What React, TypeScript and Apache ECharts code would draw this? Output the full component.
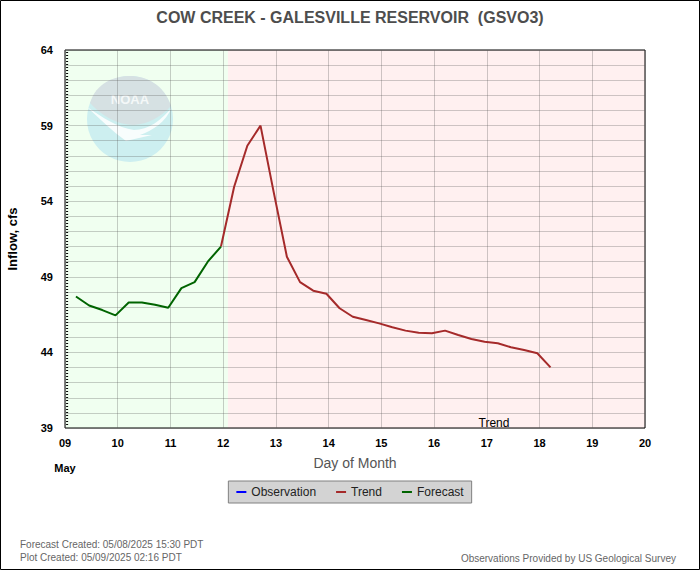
import React, { useEffect, useRef } from "react";
import * as echarts from "echarts";

// ---- data ----
const forecastDays = [9.208, 9.458, 9.708, 9.958, 10.208, 10.458, 10.708, 10.958, 11.208, 11.458, 11.708, 11.958];
const forecastValues = [47.7, 47.1, 46.8, 46.45, 47.3, 47.3, 47.15, 46.95, 48.25, 48.65, 50.0, 51.0];
const trendDays = [11.958, 12.208, 12.458, 12.708, 12.958, 13.208, 13.458, 13.708, 13.958, 14.208, 14.458, 14.708, 14.958, 15.208, 15.458, 15.708, 15.958, 16.208, 16.458, 16.708, 16.958, 17.208, 17.458, 17.708, 17.958, 18.208];
const trendValues = [51.0, 54.96, 57.67, 59.0, 54.6, 50.33, 48.65, 48.08, 47.88, 46.92, 46.36, 46.14, 45.92, 45.66, 45.44, 45.3, 45.26, 45.44, 45.15, 44.89, 44.71, 44.6, 44.34, 44.16, 43.94, 43.01];
const observationValues: number[][] = [];
// regions: [start day, end day, kind index]
const regions = [
  [9, 12.09, 0],
  [12.09, 20, 1],
];
const dataStartMarker = [[9.04]];
const xMin = 9;
const xMax = 20;
const yMin = 39;
const yMax = 64;
const yLabelStep = 5;

const FONT = "'Liberation Sans', Arial, sans-serif";
const regionColors = ["#f0fff0", "#fff0f0"];

let registered = false;
function registerShapes() {
  if (registered) return;
  registered = true;
  echarts.graphic.registerShape(
    "noaaTop",
    echarts.graphic.extendPath(
      "M -40 -16 C -34 -36 -16 -43 0 -43 C 17 -43 34 -34 41 -13 C 31 -2 18 5 4 6 C -12 6 -28 -3 -40 -16 Z",
      {}
    )
  );
  echarts.graphic.registerShape(
    "noaaWing",
    echarts.graphic.extendPath(
      "M -43 -12 C -28 -2 -12 9 4 11 C 18 11 32 1 42 -12 C 36 3 22 12 10 16 L 22 16 L -4 22 C -18 12 -30 0 -43 -12 Z",
      {}
    )
  );
}

export default function App() {
  const ref = useRef<HTMLDivElement>(null);
  useEffect(() => {
    if (!ref.current) return;
    registerShapes();
    const chart = echarts.init(ref.current, undefined, { renderer: "svg" });
    const gridLine = "rgba(90,90,90,0.3)";
    chart.setOption({
      animation: false,
      backgroundColor: "#ffffff",
      title: {
        text: "COW CREEK - GALESVILLE RESERVOIR  (GSVO3)",
        left: "center",
        top: 4,
        textStyle: { fontFamily: FONT, fontSize: 16, fontWeight: "bold", color: "#4d4d4d" },
      },
      grid: {
        left: 65,
        top: 50,
        right: 55,
        bottom: 142,
        containLabel: false,
        outerBoundsMode: "none",
        show: true,
        borderColor: "#000",
        borderWidth: 1,
        backgroundColor: "transparent",
      },
      legend: {
        data: ["Observation", "Trend", "Forecast"],
        left: "center",
        top: 481,
        icon: "rect",
        itemWidth: 10,
        itemHeight: 2,
        itemGap: 20,
        padding: [5, 8],
        backgroundColor: "#d3d3d3",
        borderColor: "#808080",
        borderWidth: 1,
        borderRadius: 0,
        textStyle: { fontFamily: FONT, fontSize: 12, color: "#222" },
      },
      xAxis: {
        type: "value",
        min: xMin,
        max: xMax,
        interval: 1,
        name: "Day of Month",
        nameLocation: "middle",
        nameGap: 28,
        nameMoveOverlap: false,
        nameTextStyle: { fontFamily: FONT, fontSize: 14, color: "#555" },
        axisLine: { show: false },
        axisTick: { show: false },
        axisLabel: {
          margin: 9,
          fontFamily: FONT,
          fontSize: 11,
          fontWeight: "bold",
          color: "#000",
          formatter: (v: number) => (v < 10 ? "0" + v : String(v)),
        },
        splitLine: { show: true, lineStyle: { color: gridLine, width: 1 } },
      },
      yAxis: {
        type: "value",
        min: yMin,
        max: yMax,
        interval: 1,
        name: "Inflow, cfs",
        nameLocation: "middle",
        nameGap: 46,
        nameMoveOverlap: false,
        nameTextStyle: { fontFamily: FONT, fontSize: 13, fontWeight: "bold", color: "#000" },
        axisLine: { show: false },
        axisTick: { show: false },
        axisLabel: {
          margin: 12,
          fontFamily: FONT,
          fontSize: 11,
          fontWeight: "bold",
          color: "#000",
          formatter: (v: number) => ((v - yMin) % yLabelStep === 0 ? String(v) : ""),
        },
        splitLine: { show: true, lineStyle: { color: gridLine, width: 1 } },
      },
      graphic: [
        {
          type: "circle",
          z: -1,
          silent: true,
          shape: { cx: 130, cy: 119, r: 43 },
          style: { fill: "#cdeff0" },
        },
        {
          type: "noaaTop",
          z: -1,
          silent: true,
          x: 130,
          y: 119,
          style: { fill: "#d6e1e3" },
        },
        {
          type: "noaaWing",
          z: -1,
          silent: true,
          x: 130,
          y: 119,
          style: { fill: "rgba(255,255,255,0.85)" },
        },
        {
          type: "text",
          z: -1,
          silent: true,
          x: 130,
          y: 99,
          style: {
            text: "NOAA",
            fill: "#f4f8f8",
            font: "bold 13px " + FONT,
            textAlign: "center",
            textVerticalAlign: "middle",
          },
        },
        {
          type: "text",
          x: 494,
          y: 429,
          style: {
            text: "Trend",
            fill: "#000",
            font: "12px " + FONT,
            textAlign: "center",
            textVerticalAlign: "bottom",
          },
        },
        {
          type: "text",
          x: 65,
          y: 468,
          style: {
            text: "May",
            fill: "#000",
            font: "bold 11px " + FONT,
            textAlign: "center",
            textVerticalAlign: "middle",
          },
        },
        {
          type: "text",
          x: 20,
          y: 544,
          style: {
            text: "Forecast Created: 05/08/2025 15:30 PDT",
            fill: "#666",
            font: "10px " + FONT,
            textAlign: "left",
            textVerticalAlign: "middle",
          },
        },
        {
          type: "text",
          x: 20,
          y: 557,
          style: {
            text: "Plot Created: 05/09/2025 02:16 PDT",
            fill: "#666",
            font: "10px " + FONT,
            textAlign: "left",
            textVerticalAlign: "middle",
          },
        },
        {
          type: "text",
          x: 676,
          y: 558,
          style: {
            text: "Observations Provided by US Geological Survey",
            fill: "#666",
            font: "10px " + FONT,
            textAlign: "right",
            textVerticalAlign: "middle",
          },
        },
        {
          type: "rect",
          z: 10,
          silent: true,
          shape: { x: 0.5, y: 0.5, width: 699, height: 569 },
          style: { fill: "none", stroke: "#000", lineWidth: 1 },
        },
      ],
      series: [
        {
          type: "custom",
          name: "regions",
          z: -5,
          silent: true,
          data: regions,
          renderItem: (params: any, api: any) => {
            const s = api.coord([api.value(0), yMax]);
            const e = api.coord([api.value(1), yMin]);
            return {
              type: "rect",
              shape: { x: s[0], y: s[1], width: e[0] - s[0], height: e[1] - s[1] },
              style: { fill: regionColors[api.value(2)] },
            };
          },
        },
        {
          type: "custom",
          name: "startMarker",
          z: 6,
          silent: true,
          data: dataStartMarker,
          renderItem: (params: any, api: any) => {
            const s = api.coord([api.value(0), yMax]);
            const e = api.coord([api.value(0), yMin]);
            return {
              type: "line",
              shape: { x1: s[0], y1: s[1] + 2, x2: e[0], y2: e[1] - 1 },
              style: { stroke: "#000", lineWidth: 2, lineDash: [1, 2] },
            };
          },
        },
        {
          type: "line",
          name: "Observation",
          color: "#0000ff",
          data: observationValues,
          showSymbol: false,
        },
        {
          type: "line",
          name: "Trend",
          color: "#a52a2a",
          data: trendDays.map((d, i) => [d, trendValues[i]]),
          showSymbol: false,
          lineStyle: { width: 2, color: "#a52a2a" },
          z: 3,
        },
        {
          type: "line",
          name: "Forecast",
          color: "#006400",
          data: forecastDays.map((d, i) => [d, forecastValues[i]]),
          showSymbol: false,
          lineStyle: { width: 2, color: "#006400" },
          z: 4,
        },
      ],
    });
    return () => chart.dispose();
  }, []);
  return (
    <div
      ref={ref}
      style={{ position: "absolute", left: 0, top: 0, width: 700, height: 570 }}
    />
  );
}
